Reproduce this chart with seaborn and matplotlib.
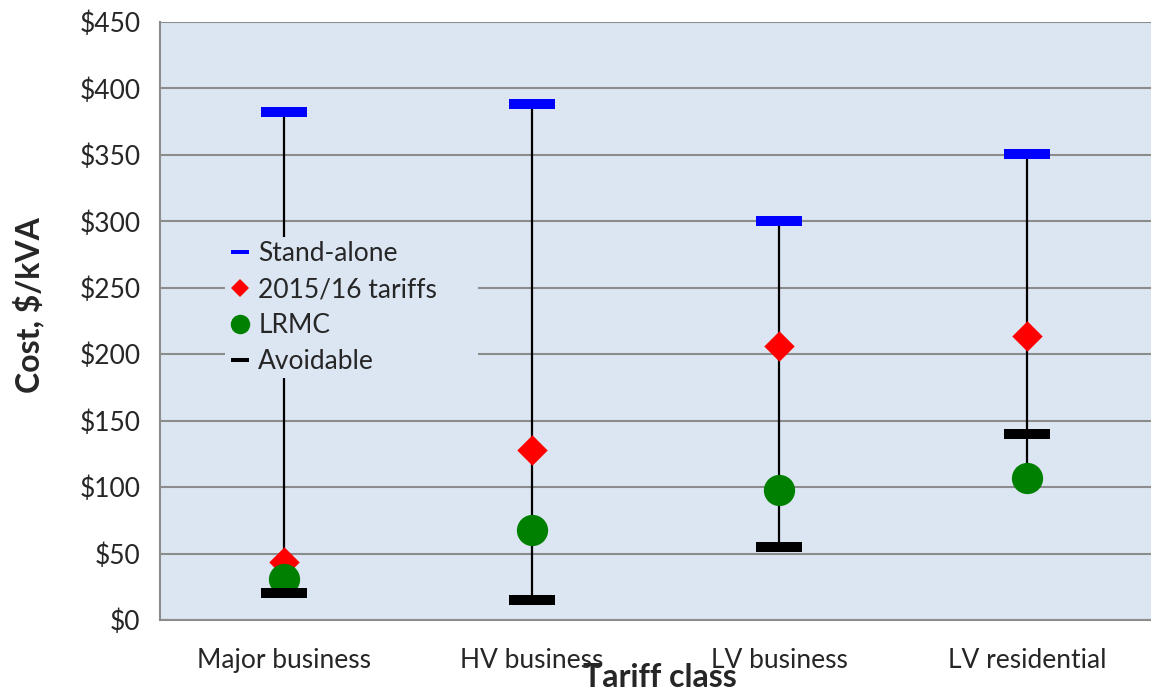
import numpy as np
import pandas as pd
import matplotlib
matplotlib.use("Agg")
import matplotlib.pyplot as plt
from matplotlib.lines import Line2D
from matplotlib.patches import Rectangle
from matplotlib.path import Path
import seaborn as sns

# Cost per kVA by tariff class
categories = ["Major business", "HV business", "LV business", "LV residential"]
stand_alone = [382, 388, 300, 351]
tariffs_2015_16 = [44, 128, 206, 214]
lrmc = [31, 68, 98, 107]
avoidable = [20, 15, 55, 140]
y_ticks = [0, 50, 100, 150, 200, 250, 300, 350, 400, 450]
y_tick_labels = [f"${v}" for v in y_ticks]

sns.set_theme(style="white")
plt.rcParams["font.family"] = ["Lato", "DejaVu Sans"]

W, H = 1151, 693
fig = plt.figure(figsize=(W / 100, H / 100), dpi=100)
ax = fig.add_axes([160 / W, 1 - 620 / H, 1 - 160 / W, (620 - 22) / H])
ax.set_facecolor("#dce6f2")

df = pd.DataFrame({
    "pos": np.arange(len(categories)),
    "Tariff class": categories,
    "Stand-alone": stand_alone,
    "2015/16 tariffs": tariffs_2015_16,
    "LRMC": lrmc,
    "Avoidable": avoidable,
})
series = ["Stand-alone", "2015/16 tariffs", "LRMC", "Avoidable"]
hi = df[series].max(axis=1)
lo = df[series].min(axis=1)

# High-low line per class
ax.vlines(df["pos"], lo, hi, color="black", lw=1.6, zorder=2)

# Flat bar marker
bar = Path([(-1, -0.23), (1, -0.23), (1, 0.23), (-1, 0.23), (-1, -0.23)], closed=True)

sns.scatterplot(data=df, x="pos", y="Stand-alone", marker=bar, s=33 ** 2,
                color="#0000ff", linewidth=0, ax=ax, zorder=3)
sns.scatterplot(data=df, x="pos", y="2015/16 tariffs", marker="D", s=15.5 ** 2,
                color="#ff0000", linewidth=0, ax=ax, zorder=3)
sns.scatterplot(data=df, x="pos", y="LRMC", marker="o", s=22.5 ** 2,
                color="#008000", linewidth=0, ax=ax, zorder=3)
sns.scatterplot(data=df, x="pos", y="Avoidable", marker=bar, s=33 ** 2,
                color="black", linewidth=0, ax=ax, zorder=3)

# Axes styling
FS = 19
ax.set_xlim(-0.5, 3.5)
ax.set_ylim(0, 450)
ax.set_yticks(y_ticks)
ax.set_yticklabels(y_tick_labels, fontsize=FS)
ax.set_xticks(df["pos"])
ax.set_xticklabels(categories, fontsize=FS)
ax.set_xticks(np.arange(-0.5, 4.0, 1.0), minor=True)
ax.tick_params(axis="x", which="major", length=0, pad=20)
ax.tick_params(axis="x", which="minor", length=8, width=1.5, color="#8c8c8c", direction="out")
ax.tick_params(axis="y", length=8, width=1.5, color="#8c8c8c", direction="out", pad=6)
ax.yaxis.grid(True, color="#8c8c8c", lw=1.5, zorder=1)
ax.set_axisbelow(True)
for s in ["top", "right"]:
    ax.spines[s].set_visible(False)
for s in ["left", "bottom"]:
    ax.spines[s].set_color("#8c8c8c")
    ax.spines[s].set_linewidth(1.5)

ax.set_xlabel("Tariff class", fontsize=23, fontweight="bold")
ax.xaxis.set_label_coords(0.5045, -0.072)
ax.set_ylabel("Cost, $/kVA", fontsize=23, fontweight="bold")
ax.yaxis.set_label_coords(-0.117, 0.527)

# Legend box
ax.add_patch(Rectangle((225 / W, 1 - 378 / H), (478 - 225) / W, (378 - 237) / H,
                       transform=fig.transFigure, facecolor="#dce6f2",
                       edgecolor="none", zorder=4, clip_on=False))
handles = [
    Line2D([], [], ls="none", marker=bar, markersize=13.5, color="#0000ff", markeredgewidth=0),
    Line2D([], [], ls="none", marker="D", markersize=9.5, color="#ff0000", markeredgewidth=0),
    Line2D([], [], ls="none", marker="o", markersize=14, color="#008000", markeredgewidth=0),
    Line2D([], [], ls="none", marker=bar, markersize=13.5, color="black", markeredgewidth=0),
]
leg = ax.legend(handles, series, loc="upper left",
                bbox_to_anchor=(230 / W, 1 - 241 / H), bbox_transform=fig.transFigure,
                frameon=False, fontsize=FS, handlelength=0.75, handletextpad=0.32,
                labelspacing=0.42, borderaxespad=0, borderpad=0)
leg.set_zorder(5)

fig.savefig("out.png", dpi=100)
